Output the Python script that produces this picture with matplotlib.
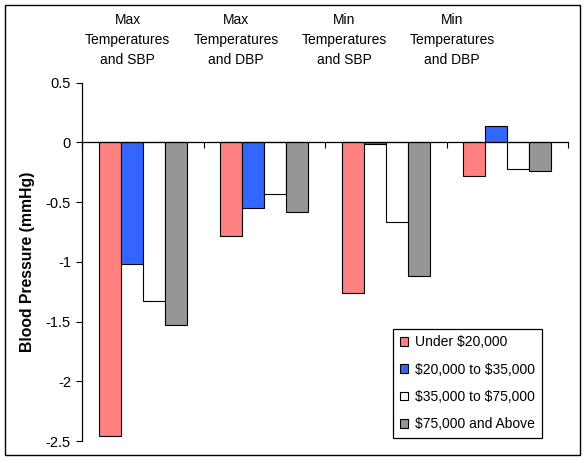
import matplotlib.pyplot as plt
import numpy as np
from matplotlib.patches import Rectangle

plt.rcParams['font.family'] = ['Liberation Sans', 'DejaVu Sans']
plt.rcParams['text.parse_math'] = False

categories = ['Max\nTemperatures\nand SBP', 'Max\nTemperatures\nand DBP',
              'Min\nTemperatures\nand SBP', 'Min\nTemperatures\nand DBP']
series = ['Under $20,000', '$20,000 to $35,000', '$35,000 to $75,000', '$75,000 and Above']
under_20k = [-2.46, -0.78, -1.26, -0.28]
from_20k_35k = [-1.02, -0.55, -0.01, 0.14]
from_35k_75k = [-1.33, -0.43, -0.67, -0.22]
above_75k = [-1.53, -0.58, -1.12, -0.24]
colors = ['#FF8080', '#3366FF', '#FFFFFF', '#969696']

fig = plt.figure(figsize=(5.86, 4.63), dpi=100)
ax = fig.add_axes([82 / 586, 1 - 441 / 463, 486 / 586, (441 - 82.7) / 463])

x = np.arange(len(categories))
w = 1 / 5.5
for i, (vals, c, lab) in enumerate(zip([under_20k, from_20k_35k, from_35k_75k, above_75k], colors, series)):
    ax.bar(x + (i - 1.5) * w, vals, w, color=c, edgecolor='black', linewidth=0.8, label=lab)

ax.set_xlim(-0.5, len(categories) - 0.5)
ax.set_ylim(-2.5, 0.5)
ax.set_yticks([0.5, 0, -0.5, -1, -1.5, -2, -2.5])
ax.set_yticklabels(['0.5', '0', '-0.5', '-1', '-1.5', '-2', '-2.5'], fontsize=10.5)
ax.tick_params(axis='y', length=4, width=0.8, pad=4)

# zero line acts as the category axis
ax.spines['top'].set_visible(False)
ax.spines['right'].set_visible(False)
ax.spines['bottom'].set_position(('data', 0))
ax.spines['bottom'].set_zorder(3)
ax.spines['bottom'].set_linewidth(0.9)
ax.spines['left'].set_linewidth(0.9)
ax.set_xticks(np.arange(len(categories) + 1) - 0.5)
ax.set_xticklabels([])
ax.tick_params(axis='x', direction='out', length=4, width=0.8)

ax.set_ylabel('Blood Pressure (mmHg)', fontsize=11.3, fontweight='bold', labelpad=8)

# category labels across the top
label_x = [127.5, 236, 344, 452]
for lx, cat in zip(label_x, categories):
    fig.text(lx / 586, 1 - 40 / 463, cat, ha='center', va='center', fontsize=10, linespacing=1.5)

leg = fig.legend(loc='lower left', bbox_to_anchor=(393 / 586, 1 - 438 / 463), fontsize=10,
                 frameon=True, fancybox=False, framealpha=1, edgecolor='black',
                 handlelength=0.6, handleheight=0.6, handletextpad=0.5,
                 labelspacing=0.95, borderpad=0.5, borderaxespad=0)
leg.get_frame().set_linewidth(0.9)

# outer chart border
fig.patches.append(Rectangle((5 / 586, 1 - 455 / 463), 575 / 586, 450 / 463,
                             transform=fig.transFigure, fill=False, edgecolor='black', linewidth=1))

fig.savefig('out.png', dpi=100)
